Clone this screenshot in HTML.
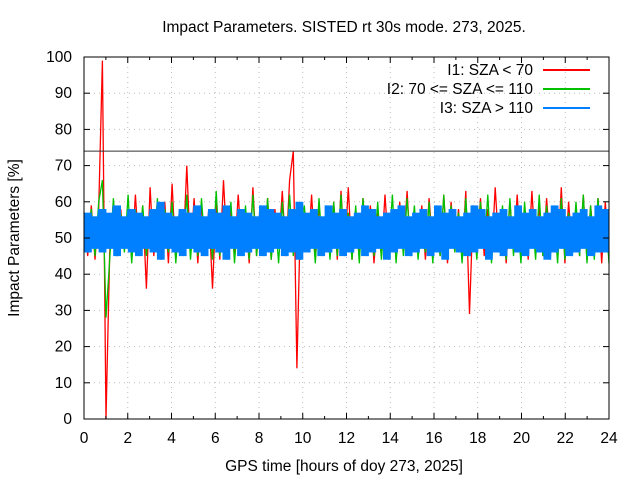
<!DOCTYPE html>
<html><head><meta charset="utf-8"><style>
body{margin:0;background:#fff}
svg text{font-family:"Liberation Sans",sans-serif;font-size:15.5px;fill:#000}
</style></head><body>
<svg id="c" width="640" height="480" xmlns="http://www.w3.org/2000/svg"></svg>
<script>
const xTicks=[0,2,4,6,8,10,12,14,16,18,20,22,24];
const yTicks=[0,10,20,30,40,50,60,70,80,90,100];
const thresholdValue=74;
const seriesNames=["I1: SZA < 70","I2: 70 <= SZA <= 110","I3: SZA > 110"];
const i1=[57,45,59,44,58,99,0,46,60,45,58,47,57,44,62,46,59,36,64,45,58,47,60,43,65,44,58,46,70,45,61,43,59,47,58,36,60,44,66,46,58,45,62,47,57,43,64,45,59,46,61,44,58,47,63,45,66,74,14,58,58,46,62,44,59,47,57,45,60,44,63,46,64,44,58,46,61,47,59,43,57,45,62,46,58,44,60,47,63,45,57,46,59,44,61,47,58,45,62,43,60,46,58,44,63,29,59,46,61,45,58,44,64,47,57,43,60,46,62,45,58,44,63,46,59,45,61,47,57,44,64,43,60,46,58,45,62,44,59,47,61,43,60,45];
const i2=[56,46,58,45,60,66,28,44,61,45,57,46,62,43,58,46,59,45,57,47,61,44,58,46,60,43,57,46,62,44,58,45,61,46,57,44,63,45,58,47,60,43,57,46,59,44,62,45,58,46,61,44,57,43,60,46,62,45,58,44,59,47,57,43,61,46,58,44,60,45,62,46,57,44,59,43,61,46,58,45,60,44,57,46,62,43,58,45,61,47,59,44,57,46,60,43,58,45,62,44,59,46,57,43,61,45,58,44,60,47,62,43,57,46,59,44,61,45,58,43,60,46,57,44,62,45,59,46,58,43,61,44,57,46,60,45,62,43,59,44,61,46,58,43];
const i3=[57,46,56,47,58,46,57,47,59,45,56,47,58,46,57,45,56,47,58,46,60,44,57,47,56,46,58,45,57,47,59,46,56,45,58,47,57,46,59,44,56,47,58,45,57,46,56,47,59,45,58,46,57,47,56,45,58,46,60,44,57,46,58,47,56,45,59,46,57,47,58,45,56,46,57,47,59,45,58,46,56,47,57,44,58,46,59,47,56,45,57,46,58,47,56,45,59,46,57,44,58,47,56,46,57,45,59,46,58,47,56,44,57,46,58,45,56,47,59,46,57,45,58,47,56,46,57,44,59,46,58,47,56,45,57,46,58,47,56,45,59,46,58,46];
const NS='http://www.w3.org/2000/svg';
const svg=document.getElementById('c');
const L=84,R=609,T=57,B=419;
const xs=v=>L+(v-0)/24*(R-L);
const ys=v=>B-(v-0)/100*(B-T);
function mk(tag,attrs,parent){const e=document.createElementNS(NS,tag);for(const k in attrs)e.setAttribute(k,attrs[k]);(parent||svg).appendChild(e);return e;}
const grid=mk('g',{stroke:'#bbb','stroke-width':1,'stroke-dasharray':'1,4'});


xTicks.slice(1,-1).forEach(t=>mk('line',{x1:xs(t),x2:xs(t),y1:T,y2:B},grid));
yTicks.slice(1,-1).forEach(t=>mk('line',{x1:L,x2:R,y1:ys(t),y2:ys(t)},grid));
const colors=['#ff0000','#00c000','#0080ff'];
function zig(arr,color,name){
  const step=24/(arr.length-1);
  const p=arr.map((v,i)=>xs(i*step).toFixed(1)+','+ys(v).toFixed(1)).join(' ');
  const e=mk('polyline',{points:p,fill:'none',stroke:color,'stroke-width':1.3});
  
  
}
zig(i1,colors[0],'series-i1');
zig(i2,colors[1],'series-i2');
const g3=mk('g',{fill:colors[2]});


const bins=i3.length/2, bw=(R-L)/bins;
for(let b=0;b<bins;b++){
  const hi=Math.max(i3[2*b],i3[2*b+1]),lo=Math.min(i3[2*b],i3[2*b+1]);
  mk('rect',{x:(L+b*bw).toFixed(1),y:ys(hi),width:(bw+0.5).toFixed(1),height:ys(lo)-ys(hi)},g3);
}
zig(i3,colors[2],'series-i3-line');
const th=mk('line',{x1:L,x2:R,y1:ys(thresholdValue),y2:ys(thresholdValue),stroke:'#333','stroke-width':1});


const fr=mk('rect',{x:L,y:T,width:R-L,height:B-T,fill:'none',stroke:'#000','stroke-width':1});


xTicks.forEach(t=>{
  mk('line',{x1:xs(t),x2:xs(t),y1:B,y2:B-6,stroke:'#000'});
  mk('line',{x1:xs(t),x2:xs(t),y1:T,y2:T+6,stroke:'#000'});
  const tx=mk('text',{x:xs(t),y:443,'text-anchor':'middle'});tx.textContent=t;
  
  
});
for(let t=1;t<24;t+=2){mk('line',{x1:xs(t),x2:xs(t),y1:B,y2:B-3,stroke:'#000'});mk('line',{x1:xs(t),x2:xs(t),y1:T,y2:T+3,stroke:'#000'});}
yTicks.forEach(t=>{
  mk('line',{x1:L,x2:L+6,y1:ys(t),y2:ys(t),stroke:'#000'});
  mk('line',{x1:R,x2:R-6,y1:ys(t),y2:ys(t),stroke:'#000'});
  const tx=mk('text',{x:72,y:ys(t)+5,'text-anchor':'end'});tx.textContent=t;
  
  
});
</script>
<svg width="640" height="480" style="position:absolute;left:0;top:0" xmlns="http://www.w3.org/2000/svg">
<text x="344" y="32" text-anchor="middle">Impact Parameters. SISTED rt 30s mode. 273, 2025.</text>
<text x="344" y="471" text-anchor="middle">GPS time [hours of doy 273, 2025]</text>
<text transform="translate(19,238) rotate(-90)" text-anchor="middle">Impact Parameters [%]</text>
<g>
<text x="533" y="75" text-anchor="end">I1: SZA &lt; 70</text>
<line x1="543" x2="590" y1="70" y2="70" stroke="#ff0000" stroke-width="2"/>
<text x="533" y="94" text-anchor="end">I2: 70 &lt;= SZA &lt;= 110</text>
<line x1="543" x2="590" y1="89" y2="89" stroke="#00c000" stroke-width="2"/>
<text x="533" y="113" text-anchor="end">I3: SZA &gt; 110</text>
<line x1="543" x2="590" y1="108" y2="108" stroke="#0080ff" stroke-width="2"/>
</g>
</svg>
</body></html>
